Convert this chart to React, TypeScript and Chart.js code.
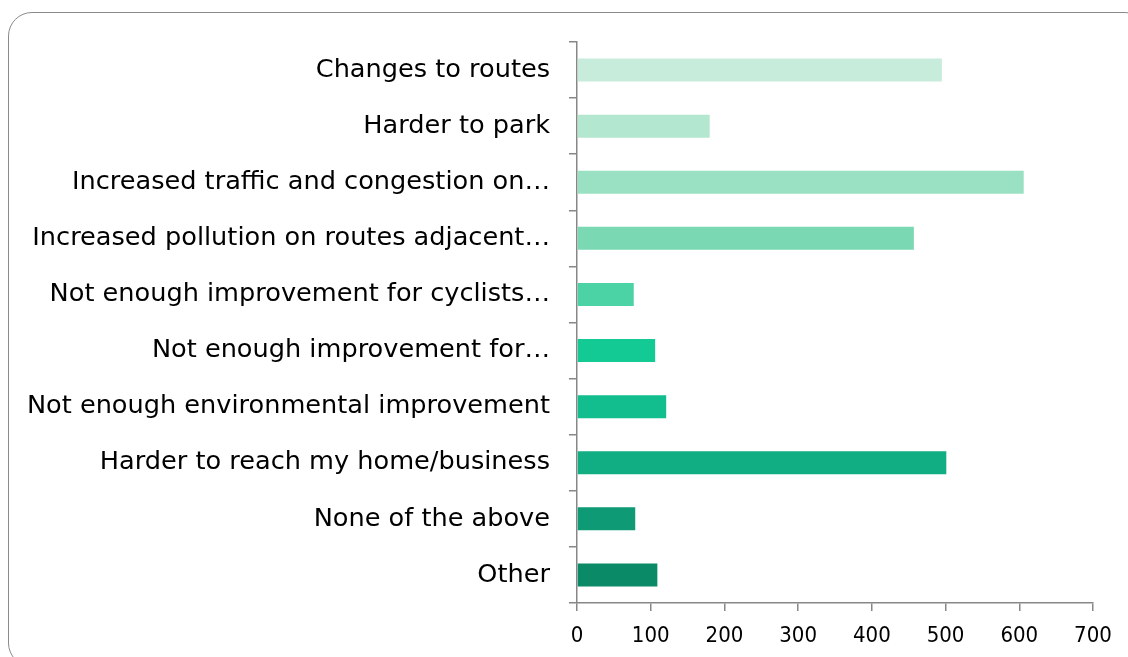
import React, { useEffect, useRef } from "react";
import { Chart, registerables } from "chart.js";

Chart.register(...registerables);

const categories: string[] = [
  "Changes to routes",
  "Harder to park",
  "Increased traffic and congestion on…",
  "Increased pollution on routes adjacent…",
  "Not enough improvement for cyclists…",
  "Not enough improvement for…",
  "Not enough environmental improvement",
  "Harder to reach my home/business",
  "None of the above",
  "Other",
];

const responses: number[] = [495, 180, 606, 457, 77, 106, 121, 501, 79, 109];

const barColors: string[] = [
  "#C8ECDC",
  "#B3E7D0",
  "#9AE0C2",
  "#7AD8B3",
  "#4CD3A5",
  "#13C994",
  "#12BE8E",
  "#11AE84",
  "#0E9A75",
  "#0B8A68",
];

const xMin = 0;
const xMax = 700;
const xStep = 100;

const AXIS_COLOR = "#878787";
const LABEL_FONT = "'DejaVu Sans', Verdana, sans-serif";
const TICK_FONT = "'DejaVu Sans Condensed', 'DejaVu Sans', Verdana, sans-serif";

export default function App() {
  const canvasRef = useRef<HTMLCanvasElement | null>(null);

  useEffect(() => {
    const canvas = canvasRef.current;
    if (!canvas) return;
    const chart = new Chart(canvas, {
      type: "bar",
      data: {
        labels: categories,
        datasets: [
          {
            data: responses,
            backgroundColor: barColors,
            borderWidth: 0,
            barPercentage: 0.41,
            categoryPercentage: 1,
          },
        ],
      },
      options: {
        indexAxis: "y",
        animation: false,
        responsive: true,
        maintainAspectRatio: false,
        layout: { padding: { top: 42, right: 35, bottom: 0, left: 0 } },
        plugins: {
          legend: { display: false },
          tooltip: { enabled: false },
          title: { display: false },
        },
        scales: {
          x: {
            type: "linear",
            min: xMin,
            max: xMax,
            afterFit: (s: any) => {
              s.height = 54;
              s.paddingLeft = 0;
              s.paddingRight = 0;
            },
            ticks: {
              stepSize: xStep,
              color: "#000",
              padding: 12,
              font: { family: TICK_FONT, size: 22 },
            },
            grid: {
              display: true,
              drawOnChartArea: false,
              drawTicks: true,
              tickLength: 8,
              color: AXIS_COLOR,
              lineWidth: 1.5,
            },
            border: { display: true, color: AXIS_COLOR, width: 1.5 },
          },
          y: {
            type: "category",
            afterFit: (s: any) => {
              s.width = 577;
              s.paddingTop = 0;
              s.paddingBottom = 0;
            },
            ticks: {
              autoSkip: false,
              color: "#000",
              padding: 19,
              font: { family: LABEL_FONT, size: 25.6 },
            },
            grid: {
              display: true,
              offset: true,
              drawOnChartArea: false,
              drawTicks: true,
              tickLength: 8,
              color: AXIS_COLOR,
              lineWidth: 1.5,
            },
            border: { display: true, color: AXIS_COLOR, width: 1.5 },
          },
        },
      },
    });
    return () => chart.destroy();
  }, []);

  return (
    <div
      style={{
        position: "fixed",
        left: 0,
        top: 0,
        width: 1128,
        height: 657,
        overflow: "hidden",
        background: "#fff",
      }}
    >
      <div
        style={{
          position: "absolute",
          left: 8,
          top: 12,
          width: 1141,
          height: 655,
          border: "1.5px solid #8a8a8a",
          borderRadius: 24,
          boxSizing: "border-box",
        }}
      />
      <div style={{ position: "absolute", left: 0, top: 0, width: 1128, height: 657 }}>
        <canvas ref={canvasRef} />
      </div>
    </div>
  );
}
